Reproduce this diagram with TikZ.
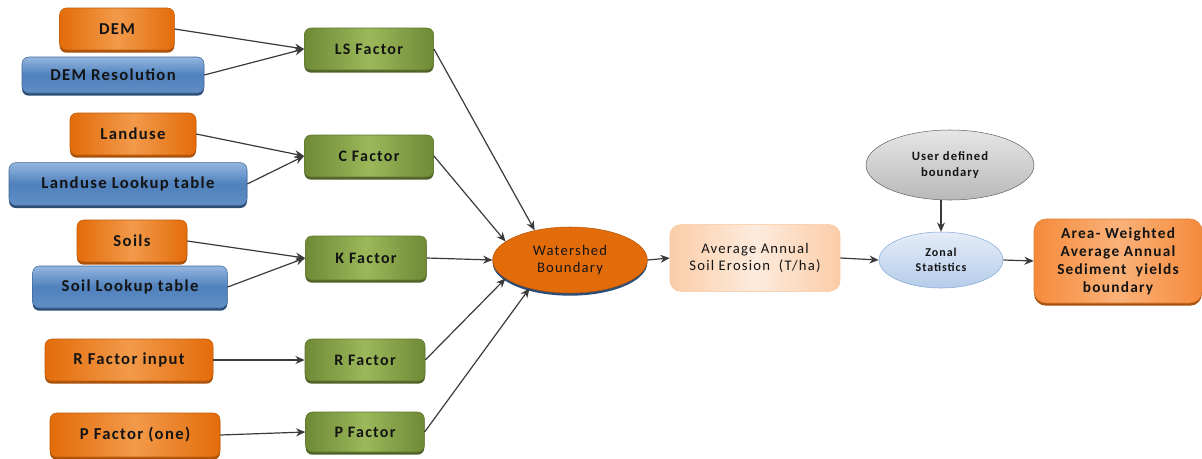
\documentclass[tikz,border=0pt]{standalone}
\usepackage{fontspec}
\setmainfont{Carlito}[LetterSpace=8]
\usetikzlibrary{shapes.geometric,arrows.meta,shadows}
\definecolor{orD}{HTML}{E36C0A}
\definecolor{orL}{HTML}{F29A4A}
\definecolor{orS}{HTML}{A9500A}
\definecolor{bluL}{HTML}{95B6E0}
\definecolor{bluD}{HTML}{4F81BD}
\definecolor{bluS}{HTML}{2C4D75}
\definecolor{grD}{HTML}{6F8A36}
\definecolor{grL}{HTML}{9BB85A}
\definecolor{grS}{HTML}{4F6228}
\definecolor{peD}{HTML}{FBCDA8}
\definecolor{peL}{HTML}{FDEBDD}
\definecolor{arD}{HTML}{F58A3A}
\definecolor{arL}{HTML}{FAB27A}
\definecolor{txt}{HTML}{141414}
\definecolor{lineC}{HTML}{3A3A3A}
\begin{document}
\begin{tikzpicture}[x=0.75pt,y=-0.75pt,
  base/.style={rounded corners=5pt, inner sep=0pt, align=center, text=txt},
  obox/.style={base, draw=orD!85!black, left color=orD, right color=orD, middle color=orL,
    font=\bfseries\fontsize{12.5}{14}\selectfont,
    drop shadow={shadow xshift=0pt, shadow yshift=-2pt, fill=orS, opacity=1}},
  bbox/.style={base, draw=bluD!80!black, top color=bluL, bottom color=bluD!90!white, middle color=bluD,
    font=\bfseries\fontsize{12.5}{14}\selectfont,
    drop shadow={shadow xshift=0pt, shadow yshift=-2pt, fill=bluS, opacity=1}},
  gbox/.style={base, draw=grD!85!black, left color=grD, right color=grD, middle color=grL,
    font=\bfseries\fontsize{12}{14}\selectfont,
    drop shadow={shadow xshift=0pt, shadow yshift=-2pt, fill=grS, opacity=1}},
  arrow/.style={draw=lineC, line width=0.9pt, -{Stealth[length=7pt,width=6pt]}}
]
\useasboundingbox (0,0) rectangle (1202,458);

% inputs
\node[obox, minimum width=86pt, minimum height=31.5pt] (dem) at (117,29) {DEM};
\node[bbox, minimum width=136.5pt, minimum height=27pt] (demres) at (113,75) {DEM Resolution};
\node[obox, minimum width=94.5pt, minimum height=31.5pt] (land) at (133,134) {Landuse};
\node[bbox, minimum width=178.5pt, minimum height=32pt] (landlk) at (128,184) {Landuse Lookup table};
\node[obox, minimum width=82.5pt, minimum height=31.5pt] (soils) at (132,241) {Soils};
\node[bbox, minimum width=146pt, minimum height=31.5pt] (soillk) at (130,287) {Soil Lookup table};
\node[obox, minimum width=126pt, minimum height=31.5pt] (rin) at (129,360) {R Factor input};
\node[obox, minimum width=127.5pt, minimum height=33pt] (pin) at (135,435) {P Factor (one)};

% factors
\node[gbox, minimum width=97pt, minimum height=31.5pt] (ls) at (369,49) {LS Factor};
\node[gbox, minimum width=97pt, minimum height=31.5pt] (cf) at (369,156) {C Factor};
\node[gbox, minimum width=91pt, minimum height=33pt] (kf) at (366,258) {K Factor};
\node[gbox, minimum width=90pt, minimum height=31.5pt] (rf) at (365,360) {R Factor};
\node[gbox, minimum width=89pt, minimum height=30pt] (pf) at (365,432) {P Factor};

% center
\node[ellipse, draw=orD!80!black, fill=orD, minimum width=116pt, minimum height=49.5pt, inner sep=0pt,
  align=center, text=txt, font=\fontsize{11}{13}\selectfont,
  drop shadow={shadow xshift=0pt, shadow yshift=-2pt, fill=bluS, opacity=1}] (ws) at (570,260) {Watershed\\Boundary};
\node[base, rounded corners=8pt, draw=peD!90!orD, left color=peD, right color=peD, middle color=peL,
  minimum width=127.5pt, minimum height=50pt, font=\fontsize{11}{13}\selectfont] (avg) at (755,258)
  {Average Annual\\Soil Erosion\ \ (T/ha)};
\node[ellipse, draw=gray!80!black, top color=gray!20, bottom color=gray!55, minimum width=126pt, minimum height=52.5pt,
  inner sep=0pt, align=center, text=txt, font=\bfseries\fontsize{9.5}{11.5}\selectfont] (user) at (950,165) {User defined\\boundary};
\node[ellipse, draw=bluL!80!bluD, top color=bluL!25, bottom color=bluL!70, minimum width=93pt, minimum height=42pt,
  inner sep=0pt, align=center, text=txt, font=\bfseries\fontsize{9}{11}\selectfont] (zon) at (941,260) {Zonal\\Statistics};
\node[base, rounded corners=9pt, draw=arD!90!black, left color=arD, right color=arD, middle color=arL,
  minimum width=126pt, minimum height=63pt, font=\bfseries\fontsize{11.5}{13.5}\selectfont,
  drop shadow={shadow xshift=0pt, shadow yshift=-2pt, fill=orS, opacity=1}] (area) at (1118,261)
  {Area- Weighted\\Average Annual\\Sediment\ \ yields\\boundary};

% connectors
\draw[arrow] (dem.east) -- (ls.west);
\draw[arrow] (demres.east) -- (ls.west);
\draw[arrow] (land.east) -- (cf.west);
\draw[arrow] (landlk.east) -- (cf.west);
\draw[arrow] (soils.east) -- (kf.west);
\draw[arrow] (soillk.east) -- (kf.west);
\draw[arrow] (rin.east) -- (rf.west);
\draw[arrow] (pin.east) -- (pf.west);

\draw[arrow] (ls.east) -- (ws.140);
\draw[arrow] (cf.east) -- (ws.164);
\draw[arrow] (kf.east) -- (ws.west);
\draw[arrow] (rf.east) -- (ws.196);
\draw[arrow] (pf.east) -- (ws.215);

\draw[arrow] (ws.east) -- (avg.west);
\draw[arrow] (avg.east) -- (zon.west);
\draw[arrow] (user.south -| zon.north) -- (zon.north);
\draw[arrow] (zon.east) -- (area.west);
\end{tikzpicture}
\end{document}
